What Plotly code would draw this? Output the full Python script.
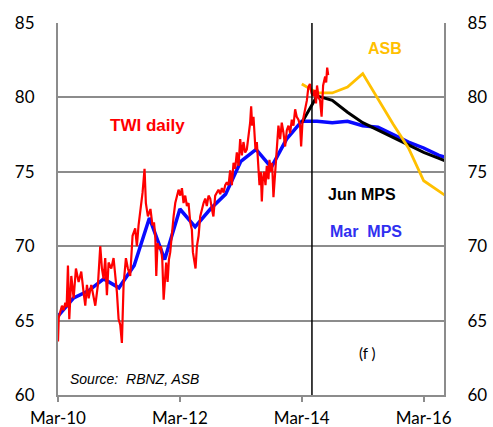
import plotly.graph_objects as go

# ---------------- data ----------------
# x axis: months since Mar-2010
tick_months = [0, 24, 48, 72]
tick_labels = ["Mar-10", "Mar-12", "Mar-14", "Mar-16"]

# quarterly months for projections (Mar-10 ... Sep-16)
q_months = [0, 3, 6, 9, 12, 15, 18, 21, 24, 27, 30, 33, 36, 39, 42, 45, 48,
            51, 54, 57, 60, 63, 66, 69, 72, 75, 78]
mar_mps = [65.3, 66.5, 67.0, 67.8, 67.2, 68.7, 71.9, 69.1, 72.5, 71.3, 72.5,
           73.5, 75.7, 76.5, 75.3, 77.2, 78.4, 78.4, 78.3, 78.4, 78.1, 78.0,
           77.5, 77.0, 76.6, 76.1, 75.8]

proj_months = [48, 51, 54, 57, 60, 63, 66, 69, 72, 75, 78]
jun_mps = [78.3, 80.1, 79.8, 79.0, 78.3, 77.8, 77.3, 76.8, 76.3, 75.9, 75.5]
asb = [80.9, 80.3, 80.3, 80.7, 81.6, 79.9, 78.2, 76.6, 74.4, 73.7, 73.0]

twi_months = [0, 0.15, 0.45, 0.78, 1.1, 1.44, 1.7, 1.96, 2.22, 2.62, 3.08, 3.53,
              4.06, 4.58, 5.04, 5.37, 5.7, 6.03, 6.55, 7.01, 7.34, 7.86, 8.32,
              8.65, 8.98, 9.3, 9.63, 9.96, 10.49, 10.94, 11.27, 11.6, 11.93,
              12.26, 12.58, 12.91, 13.37, 13.76, 14.22, 14.68, 15.2, 15.53,
              15.86, 16.39, 16.65, 17.04, 17.3, 17.7, 18.2, 18.6, 18.9, 19.15,
              19.35, 19.6, 20.0, 20.27, 20.53, 20.8, 21.05, 21.3, 21.58, 21.84,
              22.1, 22.43, 22.76, 23.09, 23.41, 23.74, 24.07, 24.4, 24.72,
              25.05, 25.38, 25.7, 26.04, 26.36, 26.56, 26.82, 27.08, 27.35,
              27.68, 28.0, 28.33, 28.66, 28.99, 29.3, 29.64, 29.97, 30.3, 30.6,
              30.95, 31.28, 31.6, 31.94, 32.27, 32.6, 32.92, 33.25, 33.58, 33.9,
              34.23, 34.56, 34.88, 35.21, 35.54, 35.87, 36.2, 36.52, 36.85,
              37.18, 37.5, 37.83, 38.03, 38.23, 38.49, 38.69, 38.88, 39.15,
              39.47, 39.67, 39.93, 40.13, 40.33, 40.59, 40.85, 41.11, 41.44,
              41.64, 41.9, 42.16, 42.42, 42.75, 43.08, 43.4, 43.74, 44.06, 44.4,
              44.72, 45.05, 45.38, 45.7, 46.03, 46.36, 46.69, 47.0, 47.34,
              47.67, 47.87, 48.13, 48.33, 48.65, 49.0, 49.3, 49.6, 49.9, 50.2,
              50.5, 50.8, 51.0, 51.3, 51.6, 51.9, 52.2, 52.6, 52.8, 53.0, 53.2]
twi_daily = [63.6, 65.2, 65.6, 66.0, 65.7, 66.2, 65.9, 68.7, 65.1, 68.0, 66.5,
             68.5, 67.6, 68.3, 66.9, 66.0, 67.4, 66.5, 67.4, 66.5, 66.0, 67.4,
             70.0, 68.5, 67.8, 69.2, 66.7, 68.9, 68.5, 69.2, 68.0, 66.9, 65.1,
             64.7, 63.5, 67.4, 69.2, 68.5, 68.0, 70.7, 71.2, 70.0, 71.4, 72.9,
             73.6, 75.2, 72.9, 72.0, 72.5, 71.4, 71.6, 70.7, 68.0, 70.2, 69.8,
             70.0, 69.1, 66.4, 68.0, 68.9, 67.6, 69.1, 69.6, 70.9, 72.0, 72.9,
             73.4, 73.8, 73.4, 73.9, 72.9, 73.4, 72.7, 72.9, 71.6, 71.1, 69.6,
             69.1, 68.5, 70.0, 70.7, 72.0, 72.5, 72.9, 73.2, 72.7, 73.4, 73.2,
             72.5, 72.0, 73.4, 73.6, 73.8, 73.5, 73.9, 73.6, 74.1, 74.3, 74.1,
             75.1, 74.1, 75.6, 75.2, 76.3, 75.4, 77.2, 76.1, 77.0, 76.3, 76.5,
             77.4, 78.3, 79.4, 78.1, 78.7, 77.4, 76.5, 77.0, 75.4, 74.1, 75.0,
             73.0, 74.5, 75.0, 74.1, 75.4, 74.5, 75.8, 75.0, 75.6, 73.3, 75.0,
             77.0, 78.1, 77.2, 78.3, 77.6, 76.7, 77.8, 78.1, 77.6, 78.5, 78.1,
             79.2, 78.7, 78.5, 78.1, 76.7, 78.3, 78.7, 79.2, 79.8, 80.7, 80.9,
             80.3, 80.1, 80.5, 79.6, 80.8, 80.0, 79.8, 78.7, 80.8, 81.4, 81.0,
             82.0, 81.5]

y_ticks = [60, 65, 70, 75, 80, 85]
cutoff_month = 50

# ---------------- figure ----------------
GRID = "#8c8c8c"
TICKFONT = dict(family="Lato, Carlito, Calibri, sans-serif", size=17, color="#000000")
ANNFONT = "Arial, Liberation Sans, sans-serif"

fig = go.Figure()
fig.add_trace(go.Scatter(x=q_months, y=mar_mps, mode="lines",
                         line=dict(color="#0a0aff", width=3.5), showlegend=False))
fig.add_trace(go.Scatter(x=proj_months, y=jun_mps, mode="lines",
                         line=dict(color="#000000", width=3), showlegend=False))
fig.add_trace(go.Scatter(x=proj_months, y=asb, mode="lines",
                         line=dict(color="#ffc000", width=2.8), showlegend=False))
fig.add_trace(go.Scatter(x=twi_months, y=twi_daily, mode="lines",
                         line=dict(color="#ff0000", width=2.2), showlegend=False))
# invisible trace for right axis
fig.add_trace(go.Scatter(x=[0], y=[60], yaxis="y2", mode="markers",
                         marker=dict(opacity=0), showlegend=False, hoverinfo="skip"))

fig.add_shape(type="line", x0=cutoff_month, x1=cutoff_month, y0=0, y1=1,
              xref="x", yref="paper", line=dict(color="#000000", width=1.5))

anns = [
    dict(text="<b>TWI daily</b>", x=17.7, y=78.1, color="#ff0000", size=17),
    dict(text="<b>ASB</b>", x=64.4, y=83.3, color="#ffc000", size=16),
    dict(text="<b>Jun MPS</b>", x=59.8, y=73.5, color="#000000", size=16),
    dict(text="<b>Mar  MPS</b>", x=60.6, y=71.0, color="#3030f0", size=16),
]
for a in anns:
    fig.add_annotation(text=a["text"], x=a["x"], y=a["y"], xref="x", yref="y",
                       showarrow=False, xanchor="center", yanchor="middle",
                       font=dict(family=ANNFONT, size=a["size"], color=a["color"]))
fig.add_annotation(text="(f )", x=61.0, y=62.8, xref="x", yref="y", showarrow=False,
                   font=dict(family=TICKFONT["family"], size=15, color="#000000"))
fig.add_annotation(text="<i>Source:  RBNZ, ASB</i>", x=2.0, y=61.1, xref="x", yref="y",
                   showarrow=False, xanchor="left", yanchor="middle",
                   font=dict(family=ANNFONT, size=14, color="#000000"))

fig.update_layout(
    width=493, height=427,
    margin=dict(l=58, r=49, t=23, b=32, autoexpand=False),
    paper_bgcolor="white", plot_bgcolor="white",
    xaxis=dict(range=[0, 76], tickvals=tick_months, ticktext=tick_labels,
               showgrid=False, zeroline=False, showline=True, linecolor=GRID,
               linewidth=2, ticks="outside", ticklen=5, tickwidth=1.5,
               tickcolor=GRID, tickfont=TICKFONT, ticklabelstandoff=2,
               automargin=False),
    yaxis=dict(range=[60, 85], tickvals=y_ticks, showgrid=True, gridcolor=GRID,
               gridwidth=2, zeroline=False, showline=True, linecolor=GRID,
               linewidth=2, ticks="", tickfont=TICKFONT, ticklabelstandoff=18,
               automargin=False),
    yaxis2=dict(range=[60, 85], tickvals=y_ticks, overlaying="y", side="right",
                showgrid=False, zeroline=False, showline=True, linecolor=GRID,
                linewidth=2, ticks="", tickfont=TICKFONT, ticklabelstandoff=18,
                automargin=False),
)

fig.write_html(
    "out.html",
    config={"displayModeBar": False},
    post_script="document.body.style.margin='0';document.body.style.overflow='hidden';",
)
